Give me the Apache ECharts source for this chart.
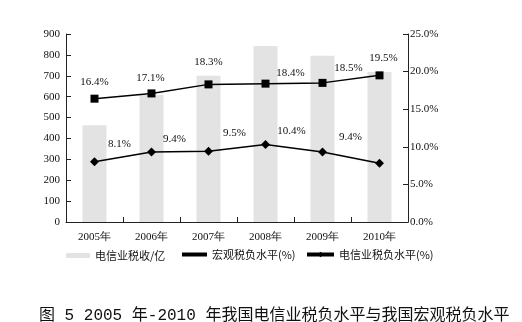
<!DOCTYPE html>
<html><head><meta charset="utf-8">
<script src="https://cdn.jsdelivr.net/npm/echarts@6/dist/echarts.min.js"></script>
<style>html,body{margin:0;padding:0;background:#fff}#c{width:522px;height:322px}</style>
</head><body><div id="c"></div>
<script>
const categories = ['2005年','2006年','2007年','2008年','2009年','2010年'];
const telecomTax = [463, 608, 700, 842, 796, 718];
const macroRate = [16.4, 17.1, 18.3, 18.4, 18.5, 19.5];
const telecomRate = [8.0, 9.3, 9.4, 10.3, 9.3, 7.8];
const macroLabels = ['16.4%','17.1%','18.3%','18.4%','18.5%','19.5%'];
const telecomLabels = ['8.1%','9.4%','9.5%','10.4%','9.4%',''];
const leftTicks = [0, 900, 100];
const rightTicks = [0, 25, 5];
const names = ['电信业税收/亿','宏观税负水平(%)','电信业税负水平(%)'];
const titleText = '图 5 2005 年-2010 年我国电信业税负水平与我国宏观税负水平';

const serif = '"Liberation Serif","DejaVu Serif",serif';
const cjk = '"Noto Sans CJK SC",sans-serif';
const macroOff = [[0,-2],[-1,-1],[0,-8],[25,4],[26,0],[4,-3]];
const telOff = [[25,-3],[23,2],[26,-3],[26,2],[28,0],[0,0]];

const chart = echarts.init(document.getElementById('c'), null, {renderer:'canvas'});
const axisCommon = {
  axisLine:{show:true,lineStyle:{color:'#222',width:1}},
  axisTick:{show:true,inside:true,length:5,lineStyle:{color:'#222'}},
  splitLine:{show:false},
  axisLabel:{color:'#111',fontFamily:serif,fontSize:11}
};
chart.setOption({
  animation:false,
  title:{text:titleText,left:34,top:303,textStyle:{fontFamily:'"Liberation Mono","Noto Sans CJK SC",monospace',fontSize:16,fontWeight:'normal',color:'#111'}},
  grid:{left:66,right:114,top:34,bottom:100},
  legend:[
    {data:[{name:names[0]}],left:61,top:245,itemWidth:24,itemHeight:5,textStyle:{fontFamily:cjk,fontSize:11,color:'#111'}},
    {data:[{name:names[1],icon:'rect'}],left:177,top:244,itemWidth:25,itemHeight:4,textStyle:{fontFamily:cjk,fontSize:11,color:'#111'}},
    {data:[{name:names[2]}],left:300,top:244,itemWidth:27,itemHeight:7,textStyle:{fontFamily:cjk,fontSize:11,color:'#111'},lineStyle:{width:4}}
  ],
  xAxis:{type:'category',data:categories,...axisCommon,
    axisLabel:{color:'#111',fontFamily:serif,fontSize:11,margin:10}},
  yAxis:[
    {type:'value',min:leftTicks[0],max:leftTicks[1],interval:leftTicks[2],...axisCommon,
      axisLabel:{color:'#111',fontFamily:serif,fontSize:11,margin:6}},
    {type:'value',min:rightTicks[0],max:rightTicks[1],interval:rightTicks[2],position:'right',...axisCommon,
      axisLabel:{color:'#111',fontFamily:serif,fontSize:11,margin:2,formatter:v=>v.toFixed(1)+'%'}}
  ],
  series:[
    {name:names[0],type:'bar',data:telecomTax,barWidth:24,itemStyle:{color:'#e3e3e3'},yAxisIndex:0},
    {name:names[1],type:'line',yAxisIndex:1,symbol:'rect',symbolSize:8,
      lineStyle:{color:'#000',width:1.5},itemStyle:{color:'#000'},
      data:macroRate.map((v,i)=>({value:v,label:{show:true,position:'top',offset:macroOff[i],formatter:macroLabels[i]}})),
      label:{fontFamily:serif,fontSize:11,color:'#111'}},
    {name:names[2],type:'line',yAxisIndex:1,symbol:'diamond',symbolSize:9,
      lineStyle:{color:'#000',width:1.5},itemStyle:{color:'#000'},
      data:telecomRate.map((v,i)=>({value:v,label:{show:telecomLabels[i]!=='',position:'top',offset:telOff[i],formatter:telecomLabels[i]}})),
      label:{fontFamily:serif,fontSize:11,color:'#111'}}
  ]
});
</script></body></html>
